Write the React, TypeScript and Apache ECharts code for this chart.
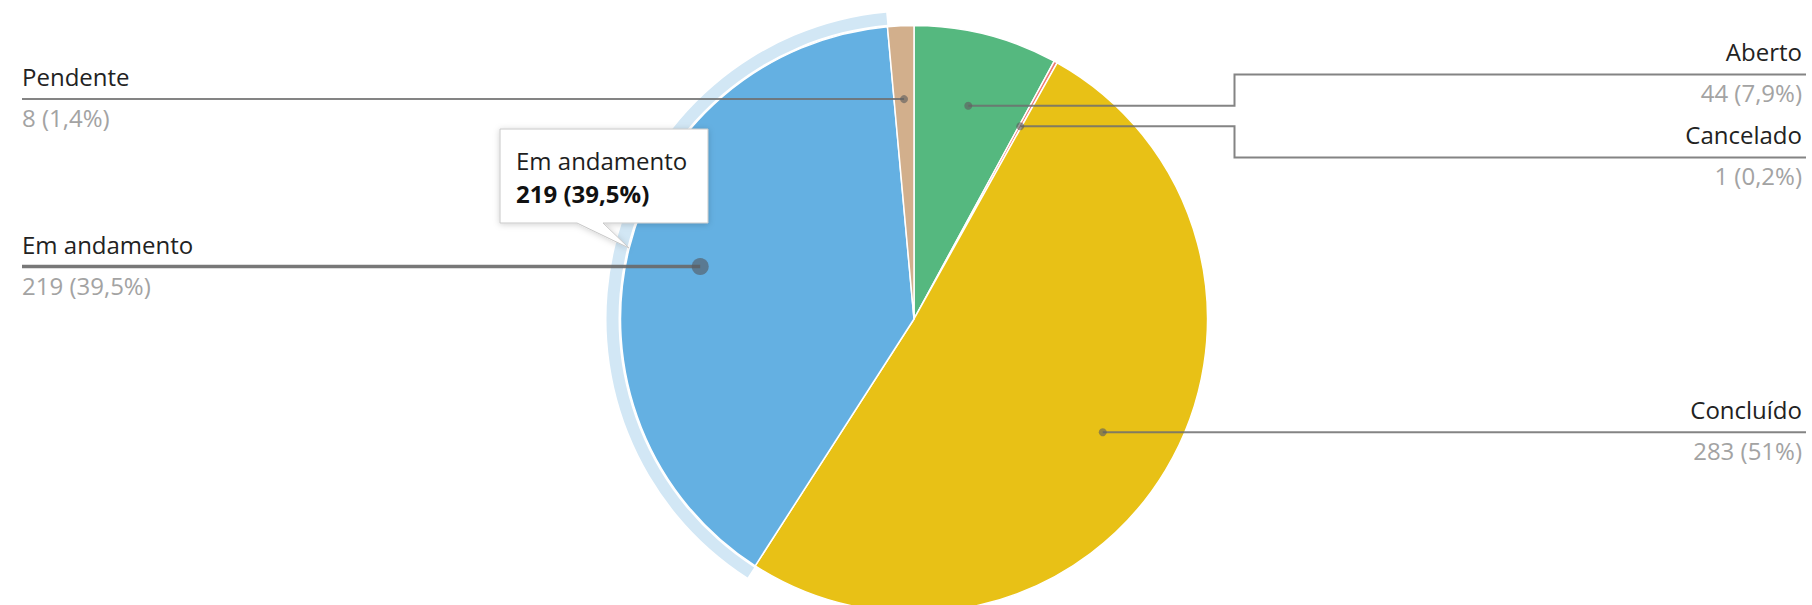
import { useEffect, useRef } from 'react';
import * as echarts from 'echarts';

const categories = ['Aberto', 'Cancelado', 'Concluído', 'Em andamento', 'Pendente'];
const values = [44, 1, 283, 219, 8];
const colors = ['#55B87F', '#EE7B73', '#E8C116', '#64B0E2', '#D2AF8C'];
const highlighted = 'Em andamento';

const W = 1812;
const H = 605;
const CX = 914;
const CY = 319;
const R = 293.5;
const DOT_FRAC = 0.75;
const LABEL_GAP = 83;
const LABEL_SHIFT = -2;
const VIEW_LEFT = 12;
const EDGE = 10;
const FONT = '"Open Sans", "Noto Sans", sans-serif';

export default function App() {
  const ref = useRef<HTMLDivElement>(null);
  useEffect(() => {
    document.body.style.margin = '0';
    const chart = echarts.init(ref.current!, null, { renderer: 'svg' });
    const total = values.reduce((a, b) => a + b, 0);
    const fmtPct = (v: number) => {
      const p = Math.round((v / total) * 1000) / 10;
      return (Number.isInteger(p) ? String(p) : p.toFixed(1)).replace('.', ',');
    };
    const mids: number[] = [];
    let acc = 0;
    values.forEach((v) => {
      mids.push(acc + v / 2);
      acc += v;
    });
    const dots = values.map((_, i) => {
      const a = (mids[i] / total) * 2 * Math.PI;
      return [CX + R * DOT_FRAC * Math.sin(a), CY - R * DOT_FRAC * Math.cos(a)];
    });
    // label vertical positions: clusters of overlapping labels centred on their dots
    const labelY: number[] = dots.map((d) => d[1]);
    [true, false].forEach((left) => {
      const idx = dots
        .map((_, i) => i)
        .filter((i) => (dots[i][0] < CX) === left)
        .sort((a, b) => dots[a][1] - dots[b][1]);
      const clusters = idx.map((i) => [i]);
      const place = (c: number[]) => {
        const mean = c.reduce((s, i) => s + dots[i][1], 0) / c.length;
        const top = mean - ((c.length - 1) * LABEL_GAP) / 2;
        return { top, bottom: top + (c.length - 1) * LABEL_GAP };
      };
      let merged = true;
      while (merged) {
        merged = false;
        for (let k = 0; k < clusters.length - 1; k++) {
          if (place(clusters[k + 1]).top - place(clusters[k]).bottom < LABEL_GAP) {
            clusters[k] = clusters[k].concat(clusters[k + 1]);
            clusters.splice(k + 1, 1);
            merged = true;
            break;
          }
        }
      }
      clusters.forEach((c) => {
        const { top } = place(c);
        c.forEach((i, j) => {
          labelY[i] = top + j * LABEL_GAP;
        });
      });
    });
    const hiIdx = categories.indexOf(highlighted);
    const common = {
      left: VIEW_LEFT,
      right: 0,
      top: 0,
      bottom: 0,
      center: [CX - VIEW_LEFT, CY],
      startAngle: 90,
      clockwise: true,
      emphasis: { disabled: true },
    };

    const option: any = {
      animation: false,
      backgroundColor: '#ffffff',
      polar: { center: [CX, CY], radius: R },
      angleAxis: { type: 'value', min: 0, max: total, startAngle: 90, clockwise: true, show: false },
      radiusAxis: { type: 'value', min: 0, max: 1, show: false },
      series: [
        {
          ...common,
          type: 'pie',
          z: 1,
          silent: true,
          radius: [R + 2, R + 14],
          label: { show: false },
          labelLine: { show: false },
          itemStyle: { borderWidth: 0 },
          data: categories.map((name, i) => ({
            name,
            value: values[i],
            itemStyle: { color: name === highlighted ? '#D2E7F5' : 'rgba(0,0,0,0)' },
          })),
        },
        {
          ...common,
          type: 'pie',
          z: 2,
          radius: R,
          itemStyle: { borderColor: '#ffffff', borderWidth: 1.5 },
          label: { show: false },
          labelLine: { show: false },
          data: categories.map((name, i) => ({
            name,
            value: values[i],
            itemStyle: { color: colors[i] },
          })),
        },
        {
          ...common,
          type: 'pie',
          z: 3,
          silent: true,
          radius: R,
          avoidLabelOverlap: false,
          itemStyle: { color: 'rgba(0,0,0,0)', borderWidth: 0 },
          label: {
            show: true,
            position: 'outer',
            alignTo: 'edge',
            edgeDistance: EDGE,
            formatter: (p: any) => `{name|${p.name}}\n{value|${p.value} (${fmtPct(p.value)}%)}`,
            rich: {
              name: { fontFamily: FONT, fontSize: 24, color: '#222222', lineHeight: 41 },
              value: { fontFamily: FONT, fontSize: 24, color: '#a3a3a3', lineHeight: 41 },
            },
          },
          labelLine: {
            show: true,
            length: -R * (1 - DOT_FRAC),
            length2: 0,
            maxSurfaceAngle: 180,
            lineStyle: { color: 'rgba(110,110,110,0.85)', width: 2 },
          },
          labelLayout: (params: any) => {
            const i = params.dataIndex;
            const [dx, dy] = dots[i];
            const rect = params.labelRect;
            const ly = labelY[i];
            const isLeft = dx < CX;
            const dir = isLeft ? -1 : 1;
            const endX = isLeft ? rect.x : rect.x + rect.width + 4;
            let pts: number[][];
            if (Math.abs(ly - dy) < 1.5) {
              pts = [[dx, dy], [endX, dy]];
            } else {
              const ex = CX + dir * (R + 27);
              pts = [[dx, dy], [ex, dy], [ex, ly], [endX, ly]];
            }
            return { y: ly + LABEL_SHIFT, labelLinePoints: pts };
          },
          data: categories.map((name, i) => ({
            name,
            value: values[i],
            labelLine:
              name === highlighted
                ? { lineStyle: { color: 'rgba(105,105,105,0.9)', width: 3.5 } }
                : undefined,
          })),
        },
        {
          type: 'scatter',
          coordinateSystem: 'polar',
          z: 5,
          silent: true,
          symbol: 'circle',
          itemStyle: { color: 'rgba(95,95,95,0.8)' },
          data: categories.map((name, i) => ({
            name,
            value: [DOT_FRAC, mids[i]],
            symbolSize: name === highlighted ? 17 : 8,
            itemStyle: name === highlighted ? { color: 'rgba(85,92,100,0.8)' } : undefined,
          })),
        },
      ],
      graphic: [
        {
          type: 'polygon',
          z: 100,
          shape: {
            points: [
              [500, 129],
              [708, 129],
              [708, 223],
              [603, 223],
              [629, 248],
              [577, 223],
              [500, 223],
            ],
          },
          style: {
            fill: '#ffffff',
            stroke: '#c8c8c8',
            lineWidth: 1,
            shadowBlur: 6,
            shadowColor: 'rgba(0,0,0,0.18)',
            shadowOffsetY: 1,
          },
        },
        {
          type: 'text',
          z: 101,
          x: 516,
          y: 160,
          style: {
            text: highlighted,
            fontFamily: FONT,
            fontSize: 24,
            fill: '#1e1e1e',
            verticalAlign: 'middle',
          },
        },
        {
          type: 'text',
          z: 101,
          x: 516,
          y: 193,
          style: {
            text: `${values[hiIdx]} (${fmtPct(values[hiIdx])}%)`,
            fontFamily: FONT,
            fontSize: 24,
            fontWeight: 'bold',
            fill: '#111111',
            verticalAlign: 'middle',
          },
        },
      ],
    };
    chart.setOption(option);
    return () => chart.dispose();
  }, []);
  return <div ref={ref} style={{ width: W, height: H }} />;
}
